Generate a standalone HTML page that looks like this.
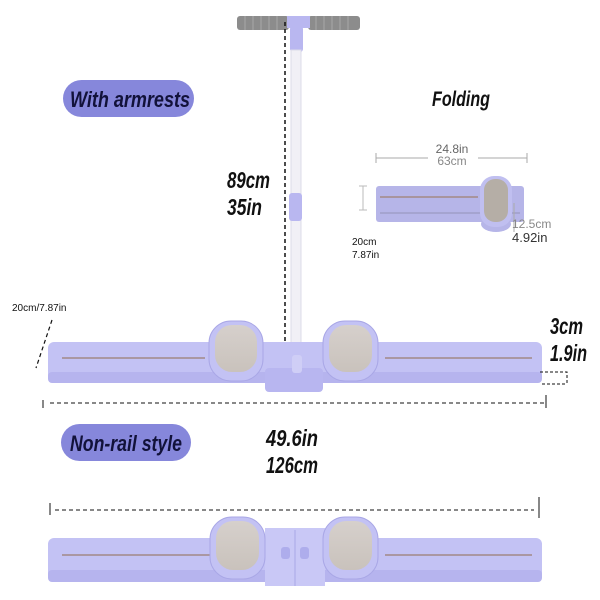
<!DOCTYPE html>
<html><head><meta charset="utf-8"><style>
html,body{margin:0;padding:0;background:#fff;width:600px;height:600px;overflow:hidden}
svg{display:block}
.cond{font-family:"Liberation Sans",sans-serif;font-style:italic;font-weight:bold}
.s{font-family:"Liberation Sans",sans-serif}
</style></head><body>
<svg width="600" height="600" viewBox="0 0 600 600" xmlns="http://www.w3.org/2000/svg">
<defs>
<linearGradient id="pad" x1="0" y1="0" x2="0" y2="1"><stop offset="0" stop-color="#d6d0cc"/><stop offset="1" stop-color="#c9c2bc"/></linearGradient>
</defs>
<rect x="237" y="16" width="52" height="14" rx="3" fill="#8c8c8c"/>
<rect x="308" y="16" width="52" height="14" rx="3" fill="#8c8c8c"/>
<g stroke="#a8a8a8" stroke-width="1">
<line x1="245" y1="16" x2="245" y2="30"/><line x1="253" y1="16" x2="253" y2="30"/><line x1="261" y1="16" x2="261" y2="30"/><line x1="269" y1="16" x2="269" y2="30"/><line x1="277" y1="16" x2="277" y2="30"/>
<line x1="316" y1="16" x2="316" y2="30"/><line x1="324" y1="16" x2="324" y2="30"/><line x1="332" y1="16" x2="332" y2="30"/><line x1="340" y1="16" x2="340" y2="30"/><line x1="348" y1="16" x2="348" y2="30"/>
</g>
<rect x="287" y="16" width="23" height="12" fill="#b9b7f0"/>
<rect x="290" y="26" width="13" height="26" rx="3" fill="#b9b7f0"/>
<rect x="291" y="50" width="10" height="320" fill="#f1f0f6" stroke="#dcdbe8"/>
<rect x="289" y="193" width="13" height="28" rx="3" fill="#b9b7f0"/>
<line x1="285" y1="22" x2="285" y2="368" stroke="#111" stroke-width="1.5" stroke-dasharray="4,3"/>
<rect x="63" y="80" width="131" height="37" rx="18.5" fill="#8687db"/>
<text x="70" y="107" class="cond" font-size="22" fill="#12123a" textLength="120" lengthAdjust="spacingAndGlyphs">With armrests</text>
<rect x="61" y="424" width="130" height="37" rx="18.5" fill="#8687db"/>
<text x="70" y="451" class="cond" font-size="22" fill="#12123a" textLength="112" lengthAdjust="spacingAndGlyphs">Non-rail style</text>
<text x="432" y="106" class="cond" font-size="21" fill="#111" textLength="58" lengthAdjust="spacingAndGlyphs">Folding</text>
<text x="227" y="188" class="cond" font-size="23" fill="#111" textLength="43" lengthAdjust="spacingAndGlyphs">89cm</text>
<text x="227" y="215" class="cond" font-size="23" fill="#111" textLength="35" lengthAdjust="spacingAndGlyphs">35in</text>
<text x="266" y="446" class="cond" font-size="23" fill="#111" textLength="52" lengthAdjust="spacingAndGlyphs">49.6in</text>
<text x="266" y="473" class="cond" font-size="23" fill="#111" textLength="52" lengthAdjust="spacingAndGlyphs">126cm</text>
<text x="550" y="334" class="cond" font-size="23" fill="#111" textLength="33" lengthAdjust="spacingAndGlyphs">3cm</text>
<text x="550" y="361" class="cond" font-size="23" fill="#111" textLength="37" lengthAdjust="spacingAndGlyphs">1.9in</text>
<text x="12" y="311" class="s" font-size="10" fill="#111">20cm/7.87in</text>
<text x="452" y="153" text-anchor="middle" class="s" font-size="12" fill="#666">24.8in</text>
<text x="452" y="165" text-anchor="middle" class="s" font-size="12" fill="#888">63cm</text>
<line x1="376" y1="158" x2="428" y2="158" stroke="#aaa"/><line x1="478" y1="158" x2="527" y2="158" stroke="#aaa"/>
<line x1="376" y1="153" x2="376" y2="163" stroke="#aaa"/><line x1="527" y1="153" x2="527" y2="163" stroke="#aaa"/>
<line x1="363" y1="186" x2="363" y2="210" stroke="#bbb"/><line x1="359" y1="186" x2="367" y2="186" stroke="#bbb"/><line x1="359" y1="210" x2="367" y2="210" stroke="#bbb"/>
<rect x="376" y="186" width="148" height="36" rx="3" fill="#b6b5e8"/>
<line x1="380" y1="197" x2="478" y2="197" stroke="#a08070" stroke-width="1.2"/>
<line x1="380" y1="213" x2="520" y2="213" stroke="#8888aa" stroke-width="0.8"/>
<ellipse cx="496" cy="224" rx="15" ry="8" fill="#b6b5e8"/>
<rect x="480" y="176" width="32" height="51" rx="14" fill="#c0bff0"/>
<rect x="484" y="179" width="24" height="43" rx="11" fill="#b5aea6"/>
<line x1="514" y1="203" x2="514" y2="232" stroke="#aaa"/>
<text x="512" y="228" class="s" font-size="12" fill="#888">12.5cm</text>
<text x="512" y="242" class="s" font-size="13" fill="#333">4.92in</text>
<text x="352" y="245" class="s" font-size="10" fill="#111">20cm</text>
<text x="352" y="258" class="s" font-size="10" fill="#111">7.87in</text>
<line x1="52" y1="320" x2="36" y2="368" stroke="#111" stroke-width="1.2" stroke-dasharray="4,3"/>
<rect x="48" y="342" width="494" height="41" rx="6" fill="#c3c2f4"/>
<rect x="48" y="372" width="494" height="11" rx="4" fill="#b6b4ee"/>
<line x1="62" y1="358" x2="205" y2="358" stroke="#9a7e70" stroke-width="1.3"/>
<line x1="385" y1="358" x2="532" y2="358" stroke="#9a7e70" stroke-width="1.3"/>
<rect x="265" y="368" width="58" height="24" rx="4" fill="#b8b6f0"/>
<rect x="292" y="355" width="10" height="18" rx="3" fill="#cfcef6"/>
<rect x="209" y="321" width="54" height="60" rx="22" fill="#c3c2f4" stroke="#a9a7e6"/>
<rect x="215" y="325" width="42" height="47" rx="17" fill="url(#pad)"/>
<rect x="323" y="321" width="55" height="60" rx="22" fill="#c3c2f4" stroke="#a9a7e6"/>
<rect x="329" y="325" width="43" height="47" rx="17" fill="url(#pad)"/>
<polyline points="540,372 567,372 567,383" fill="none" stroke="#111" stroke-dasharray="3,2"/>
<line x1="542" y1="384" x2="567" y2="384" stroke="#111" stroke-dasharray="3,2"/>
<line x1="50" y1="403" x2="545" y2="403" stroke="#111" stroke-dasharray="4,3"/>
<line x1="43" y1="400" x2="43" y2="408" stroke="#111"/><line x1="546" y1="395" x2="546" y2="408" stroke="#111"/>
<line x1="55" y1="510" x2="534" y2="510" stroke="#111" stroke-dasharray="4,3"/>
<line x1="50" y1="503" x2="50" y2="515" stroke="#111"/><line x1="539" y1="497" x2="539" y2="518" stroke="#111"/>
<rect x="48" y="538" width="494" height="44" rx="6" fill="#c3c2f4"/>
<rect x="48" y="570" width="494" height="12" rx="4" fill="#b6b4ee"/>
<line x1="62" y1="555" x2="210" y2="555" stroke="#9a7e70" stroke-width="1.3"/>
<line x1="385" y1="555" x2="532" y2="555" stroke="#9a7e70" stroke-width="1.3"/>
<rect x="265" y="528" width="60" height="58" fill="#c9c8f6"/>
<line x1="295" y1="530" x2="295" y2="586" stroke="#a9a7e6"/>
<rect x="281" y="547" width="9" height="12" rx="3" fill="#aeadec"/><rect x="300" y="547" width="9" height="12" rx="3" fill="#aeadec"/>
<rect x="210" y="517" width="55" height="62" rx="22" fill="#c3c2f4" stroke="#a9a7e6"/>
<rect x="216" y="521" width="43" height="49" rx="17" fill="url(#pad)"/>
<rect x="323" y="517" width="55" height="62" rx="22" fill="#c3c2f4" stroke="#a9a7e6"/>
<rect x="329" y="521" width="43" height="49" rx="17" fill="url(#pad)"/>
</svg>
</body></html>
